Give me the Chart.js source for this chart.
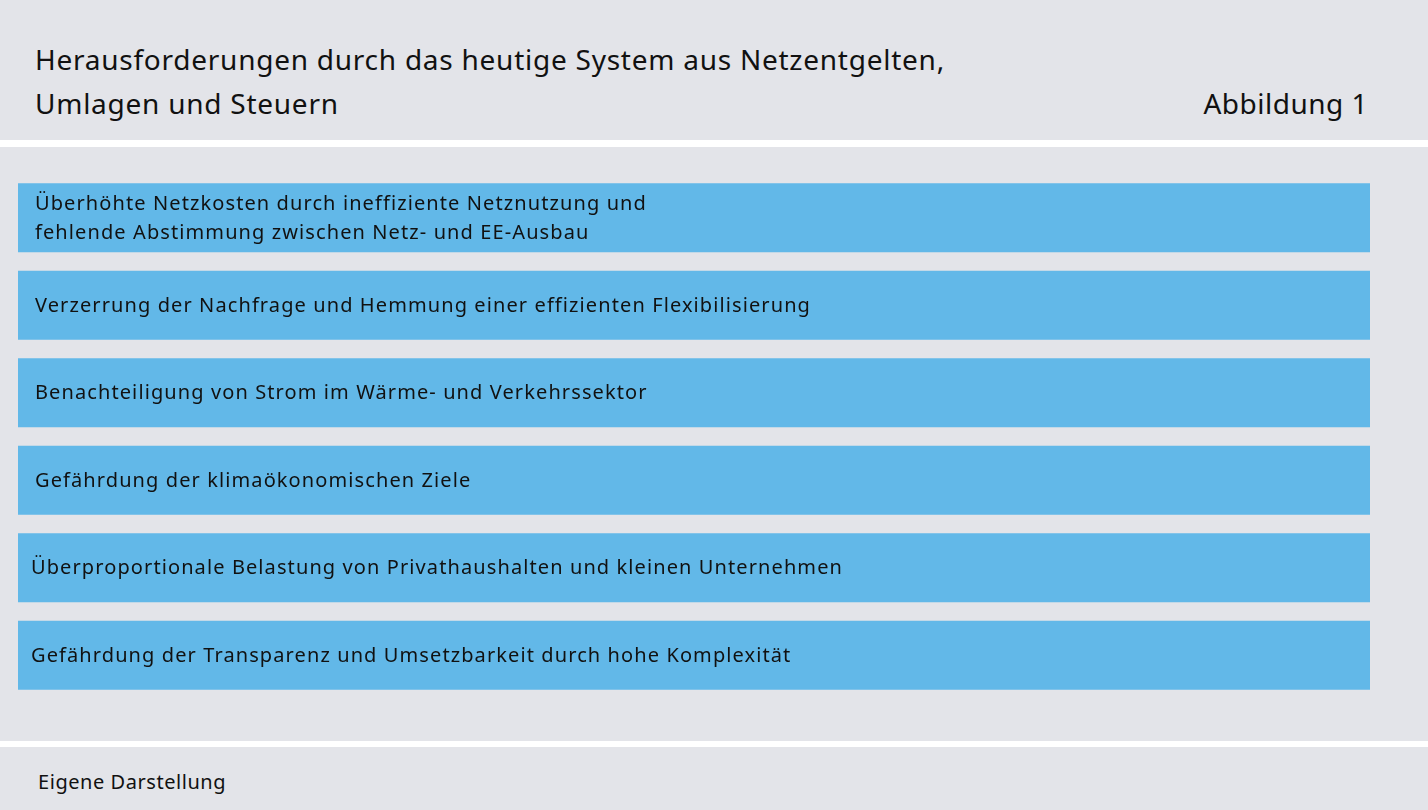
<!DOCTYPE html>
<html><head><meta charset="utf-8">
<script src="https://cdn.jsdelivr.net/npm/chart.js"></script>
<style>
body{margin:0;width:1428px;height:810px;background:#fff;font-family:"Noto Sans",sans-serif;color:#111;overflow:hidden;position:relative}
#hd{position:absolute;left:0;top:0;width:1428px;height:140px;background:#e3e4e9}
#t{position:absolute;left:35px;top:37px;font-size:28px;line-height:44px;letter-spacing:0.75px}
#ab{position:absolute;right:60px;top:81px;font-size:28px;line-height:44px;letter-spacing:0.5px}
#mid{position:absolute;left:0;top:147px;width:1428px;height:594px;background:#e3e4e9}
#ft{position:absolute;left:0;top:747px;width:1428px;height:63px;background:#e3e4e9}
#ft span{position:absolute;left:38px;top:21px;font-size:20px;letter-spacing:0.55px}
</style></head><body>
<div id="hd"><div id="t">Herausforderungen durch das heutige System aus Netzentgelten,<br>Umlagen und Steuern</div><div id="ab">Abbildung 1</div></div>
<div id="mid"><canvas id="c" width="1428" height="594"></canvas></div>
<div id="ft"><span>Eigene Darstellung</span></div>
<script>
const categories=[
 ["Überhöhte Netzkosten durch ineffiziente Netznutzung und","fehlende Abstimmung zwischen Netz- und EE-Ausbau"],
 ["Verzerrung der Nachfrage und Hemmung einer effizienten Flexibilisierung"],
 ["Benachteiligung von Strom im Wärme- und Verkehrssektor"],
 ["Gefährdung der klimaökonomischen Ziele"],
 ["Überproportionale Belastung von Privathaushalten und kleinen Unternehmen"],
 ["Gefährdung der Transparenz und Umsetzbarkeit durch hohe Komplexität"]
];
const values=[1,1,1,1,1,1];
const labelX=[35,35,35,35,31,31];
const labelPlugin={id:'lbl',afterDatasetsDraw(chart){
 const ctx=chart.ctx;const meta=chart.getDatasetMeta(0);
 ctx.save();ctx.fillStyle='#111';ctx.font='20px "Noto Sans"';ctx.letterSpacing='1.1px';ctx.textBaseline='middle';
 meta.data.forEach((b,i)=>{const lines=categories[i];const lh=29;
  lines.forEach((l,j)=>ctx.fillText(l,labelX[i],b.y+1+(j-(lines.length-1)/2)*lh));});
 ctx.restore();}};
new Chart(document.getElementById('c'),{type:'bar',
 data:{labels:categories.map(c=>c.join(' ')),datasets:[{data:values,backgroundColor:'#62b8e8',barPercentage:0.79,categoryPercentage:1}]},
 options:{indexAxis:'y',responsive:false,animation:false,
  layout:{padding:{left:18,right:58,top:27,bottom:42}},
  plugins:{legend:{display:false},tooltip:{enabled:false}},
  scales:{x:{display:false,min:0,max:1},y:{display:false}}},
 plugins:[labelPlugin]});
</script></body></html>
